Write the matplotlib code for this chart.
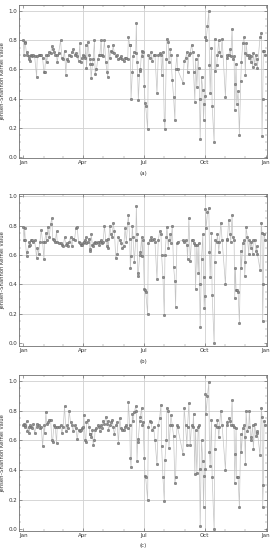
import numpy as np
import matplotlib
matplotlib.use("Agg")
import matplotlib.pyplot as plt
import matplotlib.dates as mdates

# shared observation days (day-of-year offsets from Jan 1)
days = [0,1,2,3,5,6,8,9,10,12,13,15,17,20,21,23,25,27,29,31,32,34,35,37,39,41,43,44,46,48,50,51,53,56,58,60,62,64,65,67,69,71,73,75,77,79,81,83,85,86,88,90,
        91,93,94,95,97,99,100,101,102,104,105,107,108,110,112,114,115,117,118,120,122,124,126,127,128,130,132,134,135,137,139,141,143,145,147,149,151,153,155,157,158,160,161,162,164,165,167,169,170,171,172,173,175,176,178,179,180,182,183,184,187,
        188,190,192,194,196,198,201,203,205,207,208,210,212,213,215,216,218,219,221,222,224,226,228,229,231,232,240,242,244,246,247,249,251,253,255,256,258,259,261,263,264,265,266,268,270,271,272,
        273,274,275,277,279,280,281,283,284,287,288,289,291,292,294,295,297,299,304,306,307,309,311,312,314,315,317,318,319,320,321,323,325,327,328,330,332,333,334,335,337,339,340,342,343,345,346,348,350,351,352,356,358,359,360,361,362,364]

vals_a = [0.80,0.70,0.79,0.78,0.70,0.72,0.67,0.69,0.66,0.70,0.69,0.70,0.69,0.55,0.69,0.70,0.70,0.70,0.68,0.58,0.58,0.70,0.65,0.70,0.72,0.71,0.76,0.74,0.72,0.70,0.70,0.65,0.71,0.80,0.68,0.67,0.73,0.56,0.67,0.66,0.70,0.69,0.72,0.74,0.70,0.71,0.69,0.66,0.78,0.65,0.68,0.70,
          0.69,0.68,0.77,0.61,0.79,0.70,0.67,0.64,0.54,0.64,0.67,0.80,0.57,0.60,0.67,0.70,0.70,0.80,0.70,0.69,0.80,0.65,0.58,0.55,0.76,0.68,0.73,0.72,0.77,0.71,0.69,0.70,0.67,0.68,0.69,0.67,0.66,0.68,0.68,0.67,0.82,0.77,0.77,0.40,0.58,0.69,0.72,0.71,0.92,0.65,0.56,0.39,0.59,0.60,0.73,0.69,0.72,0.49,0.37,0.35,0.19,
          0.70,0.68,0.72,0.66,0.70,0.70,0.44,0.70,0.71,0.70,0.56,0.72,0.25,0.19,0.67,0.81,0.79,0.65,0.74,0.70,0.53,0.41,0.25,0.60,0.70,0.60,0.51,0.66,0.68,0.72,0.58,0.70,0.71,0.77,0.72,0.58,0.38,0.67,0.48,0.70,0.61,0.40,0.12,0.55,0.46,0.25,0.36,
          0.42,0.82,0.80,0.90,1.00,0.63,0.44,0.75,0.35,0.10,0.81,0.59,0.63,0.70,0.80,0.72,0.69,0.81,0.41,0.70,0.68,0.70,0.74,0.69,0.88,0.67,0.69,0.32,0.50,0.64,0.36,0.45,0.15,0.52,0.65,0.78,0.82,0.71,0.56,0.78,0.70,0.68,0.70,0.65,0.69,0.62,0.71,0.64,0.70,0.67,0.61,0.82,0.85,0.14,0.40,0.73,0.73,0.70]

vals_b = [0.79,0.70,0.78,0.70,0.59,0.62,0.66,0.69,0.67,0.70,0.70,0.69,0.70,0.58,0.65,0.61,0.69,0.77,0.69,0.57,0.69,0.75,0.70,0.79,0.72,0.81,0.85,0.71,0.70,0.69,0.76,0.69,0.68,0.68,0.67,0.66,0.72,0.67,0.68,0.66,0.69,0.72,0.66,0.71,0.70,0.78,0.79,0.69,0.68,0.67,0.67,0.68,
          0.69,0.70,0.72,0.68,0.69,0.71,0.64,0.63,0.74,0.67,0.66,0.68,0.69,0.68,0.69,0.67,0.69,0.70,0.68,0.69,0.80,0.70,0.66,0.71,0.65,0.80,0.74,0.72,0.82,0.76,0.58,0.61,0.72,0.70,0.68,0.65,0.66,0.78,0.69,0.82,0.87,0.71,0.51,0.59,0.80,0.72,0.55,0.70,0.93,0.74,0.46,0.48,0.60,0.62,0.72,0.59,0.70,0.37,0.36,0.35,0.20,
          0.68,0.70,0.72,0.70,0.71,0.69,0.44,0.70,0.76,0.74,0.60,0.45,0.19,0.60,0.72,0.79,0.65,0.70,0.74,0.68,0.80,0.52,0.42,0.25,0.68,0.69,0.70,0.69,0.70,0.67,0.57,0.85,0.56,0.70,0.70,0.68,0.67,0.37,0.67,0.48,0.68,0.40,0.11,0.57,0.74,0.45,0.24,
          0.32,0.91,0.78,0.89,0.92,0.62,0.45,0.75,0.33,0.00,0.55,0.70,0.69,0.74,0.62,0.69,0.82,0.70,0.40,0.70,0.71,0.84,0.74,0.69,0.87,0.72,0.70,0.31,0.51,0.36,0.36,0.35,0.14,0.63,0.51,0.68,0.70,0.46,0.55,0.79,0.72,0.61,0.70,0.65,0.69,0.61,0.70,0.70,0.63,0.66,0.61,0.50,0.82,0.75,0.15,0.40,0.74,0.70]

vals_c = [0.70,0.71,0.69,0.70,0.73,0.66,0.69,0.65,0.70,0.69,0.68,0.71,0.65,0.71,0.69,0.70,0.68,0.69,0.56,0.70,0.65,0.79,0.71,0.72,0.74,0.74,0.60,0.59,0.70,0.69,0.58,0.69,0.69,0.70,0.65,0.69,0.83,0.66,0.70,0.68,0.80,0.72,0.70,0.66,0.70,0.68,0.61,0.67,0.66,0.67,0.68,0.69,
          0.77,0.60,0.59,0.72,0.74,0.69,0.64,0.64,0.62,0.67,0.57,0.60,0.67,0.68,0.70,0.69,0.66,0.70,0.68,0.73,0.71,0.76,0.71,0.73,0.67,0.70,0.72,0.74,0.69,0.64,0.70,0.72,0.58,0.75,0.68,0.67,0.67,0.69,0.70,0.68,0.86,0.70,0.48,0.42,0.78,0.73,0.79,0.83,0.80,0.46,0.59,0.61,0.73,0.76,0.82,0.70,0.72,0.48,0.36,0.35,0.20,
          0.69,0.73,0.72,0.67,0.69,0.60,0.44,0.70,0.75,0.84,0.56,0.35,0.19,0.47,0.60,0.82,0.80,0.55,0.70,0.77,0.70,0.63,0.31,0.35,0.70,0.69,0.51,0.82,0.70,0.57,0.69,0.85,0.57,0.70,0.69,0.78,0.37,0.67,0.38,0.69,0.70,0.41,0.02,0.60,0.46,0.15,0.36,
          0.41,0.91,0.78,0.90,0.99,0.52,0.43,0.74,0.35,0.00,0.54,0.70,0.69,0.74,0.62,0.69,0.80,0.70,0.40,0.70,0.72,0.75,0.73,0.70,0.87,0.70,0.69,0.31,0.51,0.68,0.35,0.35,0.15,0.64,0.52,0.68,0.70,0.62,0.44,0.80,0.66,0.69,0.80,0.60,0.62,0.70,0.54,0.71,0.63,0.65,0.66,0.50,0.82,0.76,0.15,0.30,0.73,0.70]

captions = ["(a)", "(b)", "(c)"]
ylabel = "Jensen\u2013Shannon Kernel Value"
yticks = [0.0, 0.2, 0.4, 0.6, 0.8, 1.0]

start = np.datetime64("2015-01-01")
dates = start + np.array(days).astype("timedelta64[D]")

W, H = 276, 550
fig = plt.figure(figsize=(W/100, H/100), dpi=100)

# pixel boxes: (left, top, right, bottom)
boxes = [(19, 5, 267, 158), (19, 194, 267, 346), (19, 375, 267, 531)]
ylims = [(-0.008, 1.043), (-0.018, 1.014), (-0.011, 1.040)]
cap_y = [173, 361, 545]

for vals, box, yl, cap, cy in zip([vals_a, vals_b, vals_c], boxes, ylims, captions, cap_y):
    l, t, r, b = box
    ax = fig.add_axes([l/W, 1 - b/H, (r-l)/W, (b-t)/H])
    ax.plot(dates, vals, '-', color='#c4c4c4', lw=0.5, zorder=2)
    ax.plot(dates, vals, 'o', ms=1.8, mfc='#8f8f8f', mec='#5f5f5f', mew=0.3, zorder=3, ls='none')
    ax.set_xlim(np.datetime64("2014-12-25T12"), np.datetime64("2016-01-02T12"))
    ax.set_ylim(*yl)
    ax.set_yticks(yticks)
    ax.set_yticklabels([f"{v:.1f}" for v in yticks])
    ax.xaxis.set_major_locator(mdates.MonthLocator(bymonth=[1, 4, 7, 10]))
    ax.xaxis.set_major_formatter(mdates.DateFormatter("%b"))
    ax.xaxis.set_minor_locator(mdates.MonthLocator())
    ax.yaxis.set_minor_locator(matplotlib.ticker.MultipleLocator(0.05))
    ax.tick_params(which='major', direction='in', length=2.5, width=0.4, labelsize=4, pad=1.5, colors='#555555', labelcolor='#333333')
    ax.tick_params(which='minor', direction='in', length=1.3, width=0.3, colors='#777777')
    ax.tick_params(top=True, right=True, which='both')
    ax.tick_params(labeltop=False, labelright=False)
    for g in [0.2, 0.4, 0.6, 0.8, 1.0]:
        ax.axhline(g, color='#d0d0d0', lw=0.6, zorder=1)
    for m in ["2015-04-01", "2015-07-01", "2015-10-01"]:
        ax.axvline(np.datetime64(m), color='#d0d0d0', lw=0.6, zorder=1)
    for s in ax.spines.values():
        s.set_color('#707070')
        s.set_linewidth(0.6)
    ax.set_ylabel(ylabel, fontsize=3.8, color='#333333', labelpad=2)
    fig.text((l + r)/2/W, 1 - cy/H, cap, ha='center', va='center', fontsize=4, color='#333333')

fig.savefig("out.png", dpi=100)
